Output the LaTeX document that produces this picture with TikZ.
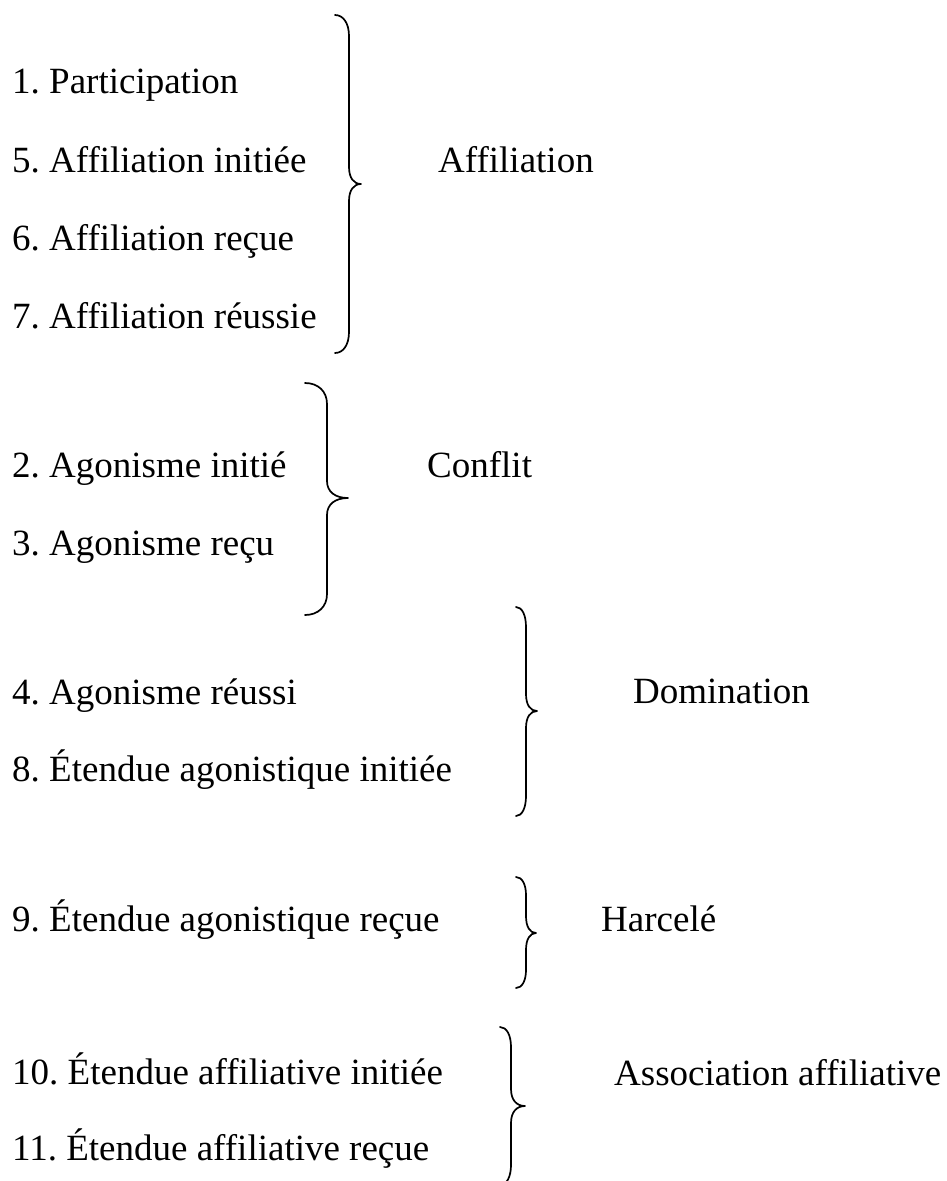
\documentclass[tikz,border=0pt]{standalone}
\usepackage{fontspec}
\setmainfont{Liberation Serif}
\frenchspacing
\tikzset{
  item/.style={anchor=base west, inner sep=0pt, font=\fontsize{37}{44}\selectfont},
  bracestyle/.style={line width=1.7pt, line join=round, line cap=round}
}
% #1 x0 (curl ends), #2 x1 (stem), #3 x2 (tip), #4 ytop, #5 ymid, #6 ybot, #7 r (end curls); tip radius 17
\newcommand{\drawcurly}[7]{%
  \draw[bracestyle] (#1,#4)
    .. controls ({#1+0.6*(#2-#1)},#4) and (#2,{#4+0.4*#7}) .. (#2,{#4+#7})
    -- (#2,{#5-17})
    .. controls (#2,{#5-6}) and ({#2+0.4*(#3-#2)},#5) .. (#3,#5)
    .. controls ({#2+0.4*(#3-#2)},#5) and (#2,{#5+6}) .. (#2,{#5+17})
    -- (#2,{#6-#7})
    .. controls (#2,{#6-0.4*#7}) and ({#1+0.6*(#2-#1)},#6) .. (#1,#6);%
}
\begin{document}
\begin{tikzpicture}[x=1pt,y=-1pt]
\useasboundingbox (0,0) rectangle (947,1181);
% left column
\node[item] (t1)  at (12,93)   {1. Participation};
\node[item] (t5)  at (12,172)  {5. Affiliation initiée};
\node[item] (t6)  at (12,250)  {6. Affiliation reçue};
\node[item] (t7)  at (12,328)  {7. Affiliation réussie};
\node[item] (t2)  at (12,477)  {2. Agonisme initié};
\node[item] (t3)  at (12,555)  {3. Agonisme reçu};
\node[item] (t4)  at (12,704)  {4. Agonisme réussi};
\node[item] (t8)  at (12,781)  {8. Étendue agonistique initiée};
\node[item] (t9)  at (12,931)  {9. Étendue agonistique reçue};
\node[item] (t10) at (12,1084) {10. Étendue affiliative initiée};
\node[item] (t11) at (12,1160) {11. Étendue affiliative reçue};
% group labels
\node[item] (gAff) at (438,172)  {Affiliation};
\node[item] (gCon) at (427,477)  {Conflit};
\node[item] (gDom) at (633,703)  {Domination};
\node[item] (gHar) at (601,931)  {Harcelé};
\node[item] (gAss) at (614,1085) {Association affiliative};
% braces
\drawcurly{335}{349}{361}{15}{184}{353}{21}
\drawcurly{305}{327}{348}{383}{498}{615}{21}
\drawcurly{516}{526}{537}{607}{711}{816}{20}
\drawcurly{516}{526}{536}{877}{933}{988}{18}
\drawcurly{500}{511}{525}{1027}{1106}{1185}{20}
\end{tikzpicture}
\end{document}
